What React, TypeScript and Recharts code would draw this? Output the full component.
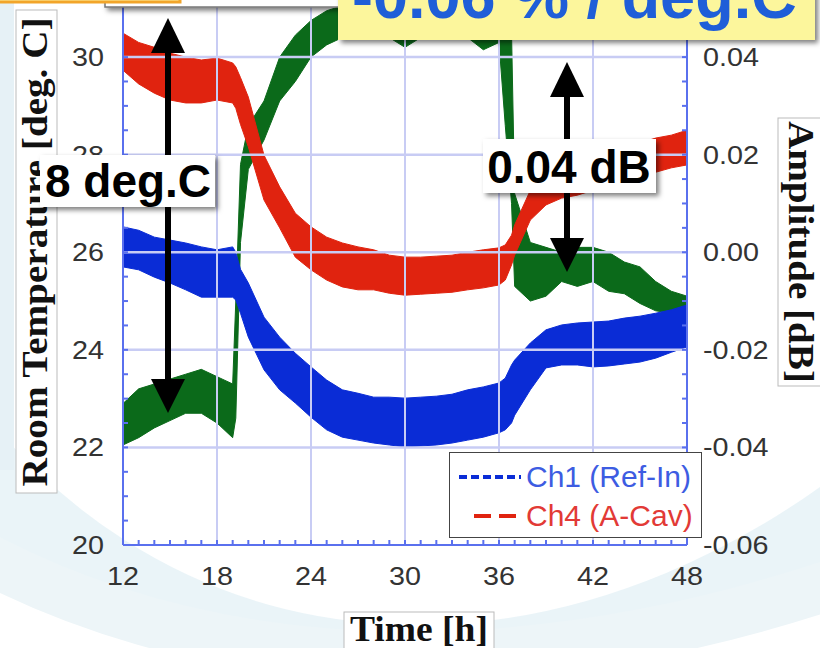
import React from "react";
import {
  ComposedChart,
  Area,
  XAxis,
  YAxis,
  ReferenceLine,
  Legend,
} from "recharts";

// time axis [h]
const hours = [
  12, 13, 14, 15, 16, 17, 18, 19, 19.2, 19.5, 20, 21, 22, 23, 24, 25, 26, 27,
  28, 29, 30, 31, 32, 33, 34, 35, 36, 36.4, 36.8, 37, 38, 39, 40, 41, 42, 43,
  44, 45, 46, 47, 48,
];

// room temperature band [deg. C] (green, left axis)
const tempLo = [
  22.05, 22.2, 22.4, 22.55, 22.7, 22.7, 22.5, 22.2, 22.6, 26.2, 27.7, 28.3,
  29.1, 29.5, 30.0, 30.25, 30.4, 30.4, 30.45, 30.4, 30.2, 30.4, 30.4, 30.4,
  30.4, 30.15, 30.3, 28.6, 27.0, 25.3, 25.0, 25.1, 25.4, 25.3, 25.4, 25.2,
  25.15, 24.95, 24.8, 24.75, 24.75,
];
const tempHi = [
  22.9, 23.2, 23.3, 23.4, 23.5, 23.6, 23.45, 23.3, 25.0, 27.8, 28.6, 29.1,
  30.0, 30.45, 30.75, 30.95, 31.05, 31.05, 31.1, 31.05, 31.05, 31.05, 31.05,
  31.05, 31.05, 31.05, 31.05, 31.0, 30.5, 27.2, 26.2, 26.1, 26.0, 26.1, 26.1,
  26.0, 25.8, 25.7, 25.4, 25.2, 25.1,
];

// Ch1 (Ref-In) amplitude band [dB] (blue, right axis)
const ch1Lo = [
  -0.003, -0.0036, -0.0051, -0.0063, -0.0077, -0.0092, -0.0092, -0.0092,
  -0.0098, -0.0125, -0.0174, -0.0241, -0.0282, -0.0309, -0.0338, -0.0364,
  -0.0379, -0.0385, -0.0391, -0.0395, -0.0399, -0.0397, -0.0395, -0.0391,
  -0.0385, -0.0379, -0.037, -0.0364, -0.035, -0.0334, -0.0282, -0.0237,
  -0.0231, -0.0231, -0.0235, -0.0233, -0.0229, -0.0225, -0.0217, -0.0205,
  -0.0194,
];
const ch1Hi = [
  0.0052, 0.0045, 0.0031, 0.0025, 0.0019, 0.0011, 0.0005, 0.0011, 0.0, -0.0035,
  -0.0063, -0.0133, -0.0174, -0.0207, -0.0235, -0.0262, -0.0282, -0.0289,
  -0.0297, -0.0297, -0.0299, -0.0297, -0.0295, -0.0291, -0.0282, -0.0276,
  -0.0268, -0.0258, -0.0231, -0.0221, -0.0186, -0.0159, -0.0149, -0.0145,
  -0.0143, -0.0141, -0.0135, -0.0131, -0.0125, -0.0118, -0.0108,
];

// Ch4 (A-Cav) amplitude band [dB] (red, right axis)
const ch4Lo = [
  0.0373, 0.0345, 0.0326, 0.0312, 0.0306, 0.0306, 0.0312, 0.0306, 0.0295,
  0.0262, 0.0216, 0.0107, 0.005, -0.001, -0.0036, -0.0057, -0.0071, -0.0077,
  -0.0077, -0.0084, -0.0088, -0.0086, -0.0084, -0.0082, -0.0077, -0.0073,
  -0.0067, -0.0057, -0.0026, -0.0006, 0.0066, 0.0097, 0.0111, 0.0117, 0.0127,
  0.0138, 0.0148, 0.0156, 0.0164, 0.0173, 0.0179,
];
const ch4Hi = [
  0.0449, 0.043, 0.042, 0.0408, 0.04, 0.0394, 0.0398, 0.0388, 0.038, 0.0358,
  0.0318, 0.0199, 0.0134, 0.008, 0.0052, 0.0031, 0.0019, 0.0011, 0.0005,
  -0.0006, -0.001, -0.001, -0.0008, -0.0006, 0.0, 0.0005, 0.0009, 0.0015,
  0.0035, 0.0056, 0.0127, 0.0164, 0.0179, 0.0189, 0.0199, 0.0209, 0.0216,
  0.0224, 0.0234, 0.024, 0.025,
];

// tick labels
const xLabels = [12, 18, 24, 30, 36, 42, 48];
const tempLabels = [20, 22, 24, 26, 28, 30];
const ampLabels = [-0.06, -0.04, -0.02, 0, 0.02, 0.04];

const data = hours.map((t, i) => ({
  t,
  temp: [tempLo[i], tempHi[i]],
  ch1: [ch1Lo[i], ch1Hi[i]],
  ch4: [ch4Lo[i], ch4Hi[i]],
}));

// minor tick positions (1 h, 0.5 deg.C, 0.005 dB)
const xTicks: number[] = [];
for (let h = 12; h <= 48; h++) xTicks.push(h);
const tempTicks: number[] = [];
for (let k = 0; k <= 20; k++) tempTicks.push(20 + k * 0.5);
const ampTicks: number[] = [];
for (let k = -12; k <= 8; k++) ampTicks.push(k * 0.005);

const AXIS = "#5a70ee";
const GRID = "#c8ccf4";
const TXT = "#333";
const GREEN = "#0b6a1a";
const BLUE = "#0a2cd6";
const RED = "#e0230f";
const SANS = "'Liberation Sans', Arial, sans-serif";
const SERIF = "'Liberation Serif', 'Times New Roman', serif";

const isMajor = (v: number, list: number[]) =>
  list.some((l) => Math.abs(l - v) < 1e-6);

const XTick = ({ x, y, payload }: any) => (
  <g>
    <line x1={x} x2={x} y1={y} y2={y - 5} stroke={AXIS} strokeWidth={2} />
    {isMajor(payload.value, xLabels) && (
      <text
        transform={`translate(${x},${y + 40}) scale(1.15,1)`}
        textAnchor="middle"
        fontSize={25}
        fontFamily={SANS}
        fill={TXT}
      >
        {payload.value}
      </text>
    )}
  </g>
);

const TempTick = ({ x, y, payload }: any) => (
  <g>
    <line x1={x} x2={x + 5} y1={y} y2={y} stroke={AXIS} strokeWidth={2} />
    {isMajor(payload.value, tempLabels) && (
      <text
        transform={`translate(${x - 19},${y}) scale(1.15,1)`}
        textAnchor="end"
        dy="0.36em"
        fontSize={25}
        fontFamily={SANS}
        fill={TXT}
      >
        {payload.value}
      </text>
    )}
  </g>
);

const AmpTick = ({ x, y, payload }: any) => (
  <g>
    <line x1={x - 5} x2={x} y1={y} y2={y} stroke={AXIS} strokeWidth={2} />
    {isMajor(payload.value, ampLabels) && (
      <text
        transform={`translate(${x + 16},${y}) scale(1.15,1)`}
        textAnchor="start"
        dy="0.36em"
        fontSize={25}
        fontFamily={SANS}
        fill={TXT}
      >
        {payload.value.toFixed(2)}
      </text>
    )}
  </g>
);

const legendLook: Record<string, { dash: string; from: number; text: string }> =
  {
    ch1: { dash: "8 4", from: 9, text: "#3d5ce2" },
    ch4: { dash: "17 8", from: 24, text: "#e23a36" },
  };

const LegendBox = ({ payload }: any) => {
  const items = (payload || []).filter(
    (p: any) => legendLook[p.dataKey as string]
  );
  return (
    <div
      style={{
        width: 253,
        height: 86,
        boxSizing: "border-box",
        background: "#fff",
        border: "1.5px solid #444",
        paddingTop: 4,
      }}
    >
      {items.map((p: any) => {
        const look = legendLook[p.dataKey as string];
        return (
          <div
            key={p.dataKey}
            style={{ display: "flex", alignItems: "center", height: 39 }}
          >
            <svg width={74} height={10}>
              <line
                x1={look.from}
                x2={71}
                y1={5}
                y2={5}
                stroke={p.color}
                strokeWidth={4}
                strokeDasharray={look.dash}
              />
            </svg>
            <span
              style={{
                fontFamily: SANS,
                fontSize: 30,
                color: look.text,
                marginLeft: 2,
                whiteSpace: "nowrap",
              }}
            >
              {p.value}
            </span>
          </div>
        );
      })}
    </div>
  );
};

const Arrow = ({ x, top, bottom }: { x: number; top: number; bottom: number }) => (
  <g>
    <line x1={x} x2={x} y1={top + 30} y2={bottom - 30} stroke="#000" strokeWidth={6} />
    <polygon points={`${x},${top} ${x - 17},${top + 35} ${x + 17},${top + 35}`} fill="#000" />
    <polygon points={`${x},${bottom} ${x - 17},${bottom - 34} ${x + 17},${bottom - 34}`} fill="#000" />
  </g>
);

export default function App() {
  return (
    <div
      style={{
        position: "absolute",
        left: 0,
        top: 0,
        width: 820,
        height: 648,
        overflow: "hidden",
        background: "#fff",
      }}
    >
      <svg width={820} height={648} style={{ position: "absolute", left: 0, top: 0 }}>
        <path d="M -120 330 C 120 760, 620 760, 960 420" stroke="#e3f0f5" strokeWidth={80} fill="none" opacity={0.75} />
        <path d="M -80 520 C 200 700, 560 690, 900 560" stroke="#edf5f8" strokeWidth={50} fill="none" />
        <path d="M 0 0 L 14 0 L 14 470 L 0 470 Z" fill="#e6f1f6" />
      </svg>

      <div style={{ position: "absolute", left: 0, top: 0 }}>
        <ComposedChart
          width={820}
          height={648}
          data={data}
          margin={{ top: 0, right: 0, bottom: 0, left: 0 }}
        >
          <XAxis
            dataKey="t"
            type="number"
            domain={[12, 48]}
            ticks={xTicks}
            interval={0}
            tick={(p: any) => <XTick {...p} />}
            tickLine={false}
            tickSize={0}
            tickMargin={0}
            height={103}
            axisLine={{ stroke: AXIS, strokeWidth: 2 }}
            allowDataOverflow
          />
          <YAxis
            yAxisId="temp"
            orientation="left"
            width={123}
            domain={[20, 31.17]}
            ticks={tempTicks}
            interval={0}
            tick={(p: any) => <TempTick {...p} />}
            tickLine={false}
            tickSize={0}
            tickMargin={0}
            axisLine={{ stroke: AXIS, strokeWidth: 2 }}
            allowDataOverflow
          />
          <YAxis
            yAxisId="amp"
            orientation="right"
            width={133}
            domain={[-0.06, 0.0517]}
            ticks={ampTicks}
            interval={0}
            tick={(p: any) => <AmpTick {...p} />}
            tickLine={false}
            tickSize={0}
            tickMargin={0}
            axisLine={{ stroke: AXIS, strokeWidth: 2 }}
            allowDataOverflow
          />
          {xLabels.slice(1, -1).map((v) => (
            <ReferenceLine key={"gx" + v} x={v} yAxisId="temp" stroke={GRID} strokeWidth={2} />
          ))}
          {tempLabels.slice(1).map((v) => (
            <ReferenceLine key={"gy" + v} y={v} yAxisId="temp" stroke={GRID} strokeWidth={2.5} />
          ))}
          <Area
            yAxisId="temp"
            dataKey="temp"
            name="Room Temp."
            type="linear"
            stroke={GREEN}
            strokeWidth={1}
            fill={GREEN}
            fillOpacity={1}
            legendType="none"
            dot={false}
            activeDot={false}
            isAnimationActive={false}
          />
          <Area
            yAxisId="amp"
            dataKey="ch1"
            name="Ch1 (Ref-In)"
            type="linear"
            stroke={BLUE}
            strokeWidth={1}
            fill={BLUE}
            fillOpacity={1}
            dot={false}
            activeDot={false}
            isAnimationActive={false}
          />
          <Area
            yAxisId="amp"
            dataKey="ch4"
            name="Ch4 (A-Cav)"
            type="linear"
            stroke={RED}
            strokeWidth={1}
            fill={RED}
            fillOpacity={1}
            dot={false}
            activeDot={false}
            isAnimationActive={false}
          />
          <Legend
            layout="vertical"
            align="center"
            verticalAlign="middle"
            wrapperStyle={{ left: 449, top: 452, width: 253, height: 86 }}
            content={(p: any) => <LegendBox {...p} />}
          />
        </ComposedChart>
      </div>

      {/* axis titles and slide annotations */}
      <svg
        width={820}
        height={648}
        style={{ position: "absolute", left: 0, top: 0, pointerEvents: "none" }}
      >
        <defs>
          <filter id="sh" x="-20%" y="-30%" width="140%" height="170%">
            <feDropShadow dx="3" dy="3" stdDeviation="2.5" floodColor="#000" floodOpacity="0.5" />
          </filter>
        </defs>

        <rect x={16} y={10} width={41} height={483} fill="#fff" stroke="#bbb" strokeWidth={1} />
        <text
          transform="translate(47,252) rotate(-90)"
          textAnchor="middle"
          fontFamily={SERIF}
          fontWeight="bold"
          fontSize={36}
          textLength={469}
          lengthAdjust="spacingAndGlyphs"
          fill="#111"
        >
          Room Temperature [deg. C]
        </text>
        <rect x={778} y={118} width={48} height={268} fill="#fff" stroke="#bbb" strokeWidth={1} />
        <text
          transform="translate(789,252) rotate(90)"
          textAnchor="middle"
          fontFamily={SERIF}
          fontWeight="bold"
          fontSize={36}
          textLength={262}
          lengthAdjust="spacingAndGlyphs"
          fill="#111"
        >
          Amplitude [dB]
        </text>
        <rect x={344} y={612} width={150} height={44} fill="#fff" stroke="#bbb" strokeWidth={1} />
        <text
          x={419}
          y={641}
          textAnchor="middle"
          fontFamily={SERIF}
          fontWeight="bold"
          fontSize={36}
          textLength={138}
          lengthAdjust="spacingAndGlyphs"
          fill="#111"
        >
          Time [h]
        </text>

        <rect x={105} y={-60} width={240} height={67} fill="#fff" stroke="#777" strokeWidth={1.5} filter="url(#sh)" />
        <rect x={-10} y={-60} width={190} height={62} fill="#fdf6a8" stroke="#f2a52a" strokeWidth={3} />

        <rect x={338} y={-40} width={477} height={80} fill="#fcf69c" filter="url(#sh)" />
        <text x={352} y={18} fontFamily={SANS} fontWeight="bold" fontSize={63} fill="#1f5ed8">
          -0.06 % / deg.C
        </text>

        <Arrow x={168} top={18} bottom={413} />
        <rect x={40} y={155} width={175} height={52} fill="#fff" filter="url(#sh)" />
        <text x={128} y={197} textAnchor="middle" fontFamily={SANS} fontWeight="bold" fontSize={46} fill="#000">
          8 deg.C
        </text>

        <Arrow x={567} top={62} bottom={272} />
        <rect x={483} y={139} width={173} height={54} fill="#fff" filter="url(#sh)" />
        <text x={569} y={183} textAnchor="middle" fontFamily={SANS} fontWeight="bold" fontSize={46} fill="#000">
          0.04 dB
        </text>
      </svg>
    </div>
  );
}
